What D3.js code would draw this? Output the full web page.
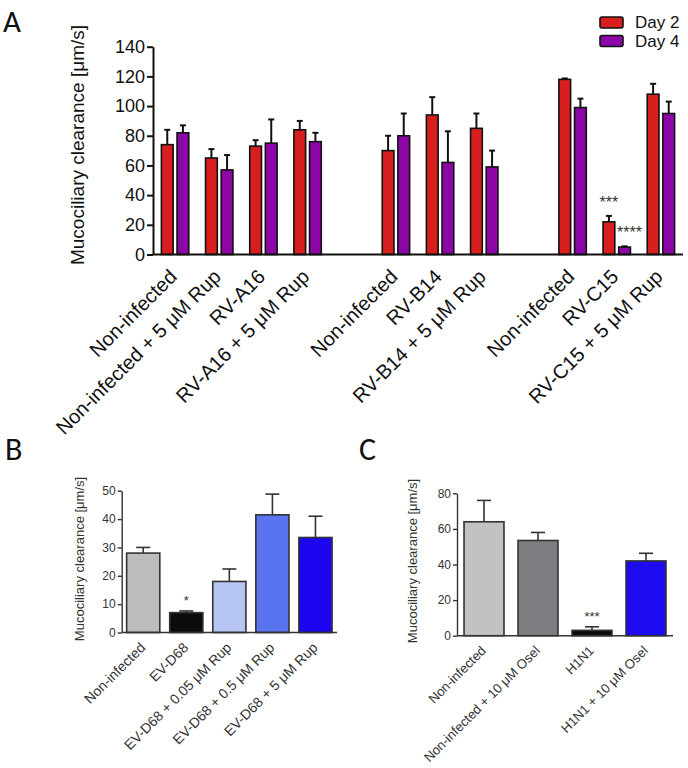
<!DOCTYPE html>
<html><head><meta charset="utf-8">
<script src="https://cdn.jsdelivr.net/npm/d3@7"></script>
<style>body{margin:0;background:#fff}</style>
</head><body>
<svg id="c" width="688" height="768"></svg>
<script>
// ---------- Panel A data ----------
const catsA = ["Non-infected","Non-infected + 5 μM Rup","RV-A16","RV-A16 + 5 μM Rup","",
  "Non-infected","RV-B14","RV-B14 + 5 μM Rup","",
  "Non-infected","RV-C15","RV-C15 + 5 μM Rup"];
const seriesA = ["Day 2","Day 4"];
const day2 = [74,65,73,84,null,70,94,85,null,118,22,108];
const day2Err = [10,6,4,6,null,10,12,10,null,0.6,4,7];
const day4 = [82,57,75,76,null,80,62,59,null,99,5,95];
const day4Err = [5,10,16,6,null,15,21,11,null,6,0.5,8];
const ticksA = [0,20,40,60,80,100,120,140];
const starsA = [{slot:10, series:"Day 2", text:"***"},{slot:10, series:"Day 4", text:"****"}];

// ---------- Panel B data ----------
const catsB = ["Non-infected","EV-D68","EV-D68 + 0.05 μM Rup","EV-D68 + 0.5 μM Rup","EV-D68 + 5 μM Rup"];
const valsB = [28,7,18,41.5,33.5];
const errB = [2,0.6,4.4,7.3,7.5];
const ticksB = [0,10,20,30,40,50];
const starsB = [{index:1, text:"*"}];

// ---------- Panel C data ----------
const catsC = ["Non-infected","Non-infected + 10 μM Osel","H1N1","H1N1 + 10 μM Osel"];
const valsC = [64,53.5,3,42];
const errC = [12,4.5,2,4.3];
const ticksC = [0,20,40,60,80];
const starsC = [{index:2, text:"***"}];

const yTitle = "Mucociliary clearance [μm/s]";

// ---------- styles ----------
const colA = {"Day 2":"#d81e1e","Day 4":"#8c06a8"};
const colB = ["#bdbdbd","#0b0b0b","#b7c5f2","#5a73ee","#1c06f2"];
const colC = ["#c2c2c2","#7d7d82","#0b0b0b","#1c0af0"];
const FONT = "'Liberation Sans', Arial, sans-serif";
const LFONT = "Carlito, Lato, 'Open Sans', sans-serif";

const svg = d3.select("#c");
svg.append("rect").attr("width",688).attr("height",768).attr("fill","#fff");

// ================= Panel A =================
(function(){
  const x0 = 153, x1 = 683, yb = 254.5, yt = 46.7;
  const slots = d3.range(catsA.length);
  const xs = d3.scaleBand().domain(slots).range([x0,x1]).paddingInner(0.38).paddingOuter(0.19);
  const xi = d3.scaleBand().domain(seriesA).range([0, xs.bandwidth()]).paddingInner(0.25);
  const y = d3.scaleLinear().domain([0,140]).range([yb,yt]);
  const g = svg.append("g");

  const rows = [];
  slots.forEach(i=>{
    if (day2[i]!=null) rows.push({i, s:"Day 2", v:day2[i], e:day2Err[i]});
    if (day4[i]!=null) rows.push({i, s:"Day 4", v:day4[i], e:day4Err[i]});
  });
  const bx = d=> xs(d.i)+xi(d.s);
  const eg = g.append("g").attr("stroke","#111").attr("stroke-width",2);
  rows.forEach(d=>{
    const cx = bx(d)+xi.bandwidth()/2;
    eg.append("line").attr("x1",cx).attr("x2",cx).attr("y1",y(d.v)).attr("y2",y(d.v+d.e));
    eg.append("line").attr("x1",cx-3).attr("x2",cx+3).attr("y1",y(d.v+d.e)).attr("y2",y(d.v+d.e));
  });
  g.selectAll("rect.bar").data(rows).join("rect")
    .attr("x",bx).attr("width",xi.bandwidth())
    .attr("y",d=>y(d.v)).attr("height",d=>yb-y(d.v))
    .attr("fill",d=>colA[d.s]).attr("stroke","#111").attr("stroke-width",1.6);

  const ay = g.append("g").attr("transform",`translate(${x0},0)`)
    .call(d3.axisLeft(y).tickValues(ticksA).tickSize(6).tickSizeOuter(0).tickPadding(2));
  ay.select(".domain").attr("stroke","#111").attr("stroke-width",2);
  ay.selectAll(".tick line").attr("stroke","#111").attr("stroke-width",2);
  ay.selectAll("text").attr("font-family",FONT).attr("font-size",18).attr("fill","#111");
  g.append("line").attr("x1",x0).attr("x2",x1).attr("y1",yb).attr("y2",yb)
    .attr("stroke","#111").attr("stroke-width",2);

  slots.forEach(i=>{
    if (!catsA[i]) return;
    const cx = xs(i)+xs.bandwidth()/2;
    g.append("text").attr("transform",`translate(${cx-2},${yb+18.5}) rotate(-45)`)
      .attr("text-anchor","end").attr("dy","0.35em")
      .attr("font-family",FONT).attr("font-size",20).attr("fill","#111").text(catsA[i]);
  });
  g.append("text").attr("transform",`translate(84,145) rotate(-90)`)
    .attr("text-anchor","middle").attr("font-family",FONT).attr("font-size",19).attr("fill","#111").text(yTitle);

  starsA.forEach(s=>{
    const v = s.series==="Day 2"? day2[s.slot]+day2Err[s.slot] : day4[s.slot]+day4Err[s.slot];
    const cx = xs(s.slot)+xi(s.series)+xi.bandwidth()/2 + (s.series==="Day 4"?5:0);
    g.append("text").attr("x",cx).attr("y",y(v)-8).attr("text-anchor","middle")
      .attr("font-family",FONT).attr("font-size",16).attr("fill","#333").text(s.text);
  });

  seriesA.forEach((s,k)=>{
    const ly = 17 + k*18.5;
    g.append("rect").attr("x",600).attr("y",ly).attr("width",23).attr("height",11).attr("rx",2)
      .attr("fill",colA[s]).attr("stroke","#111").attr("stroke-width",1.6);
    g.append("text").attr("x",635).attr("y",ly+5.5).attr("dy","0.35em")
      .attr("font-family",FONT).attr("font-size",17).attr("fill","#111").text(s);
  });

  svg.append("text").attr("x",3).attr("y",32).attr("font-family",LFONT).attr("font-size",31).attr("fill","#111").text("A");
})();

// ================= Panels B & C =================
function smallPanel(cfg){
  const {x0,x1,yb,yt,max,cats,vals,errs,cols,ticks,stars,pad,titleX,titleY,lab} = cfg;
  const g = svg.append("g");
  const x = d3.scaleBand().domain(d3.range(cats.length)).range([x0,x1]).paddingInner(pad).paddingOuter(pad/2);
  const y = d3.scaleLinear().domain([0,max]).range([yb,yt]);
  const eg = g.append("g").attr("stroke","#333").attr("stroke-width",1.6);
  vals.forEach((v,i)=>{
    const cx = x(i)+x.bandwidth()/2;
    eg.append("line").attr("x1",cx).attr("x2",cx).attr("y1",y(v)).attr("y2",y(v+errs[i]));
    eg.append("line").attr("x1",cx-7).attr("x2",cx+7).attr("y1",y(v+errs[i])).attr("y2",y(v+errs[i]));
  });
  g.selectAll("rect.bar").data(vals).join("rect")
    .attr("x",(d,i)=>x(i)).attr("width",x.bandwidth())
    .attr("y",d=>y(d)).attr("height",d=>yb-y(d))
    .attr("fill",(d,i)=>cols[i]).attr("stroke","#333").attr("stroke-width",1.6);
  const ay = g.append("g").attr("transform",`translate(${x0},0)`)
    .call(d3.axisLeft(y).tickValues(ticks).tickSize(4).tickSizeOuter(0).tickPadding(2));
  ay.select(".domain").attr("stroke","#333").attr("stroke-width",1.4);
  ay.selectAll(".tick line").attr("stroke","#333").attr("stroke-width",1.4);
  ay.selectAll("text").attr("font-family",FONT).attr("font-size",12).attr("fill","#333");
  g.append("line").attr("x1",x0).attr("x2",x1).attr("y1",yb).attr("y2",yb)
    .attr("stroke","#333").attr("stroke-width",1.4);
  cats.forEach((c,i)=>{
    const cx = x(i)+x.bandwidth()/2;
    g.append("text").attr("transform",`translate(${cx-0.5},${yb+12.5}) rotate(-45)`)
      .attr("text-anchor","end").attr("dy","0.35em")
      .attr("font-family",FONT).attr("font-size",lab).attr("fill","#333").text(c);
  });
  g.append("text").attr("transform",`translate(${titleX},${titleY}) rotate(-90)`)
    .attr("text-anchor","middle").attr("font-family",FONT).attr("font-size",13).attr("fill","#333").text(yTitle);
  stars.forEach(s=>{
    const cx = x(s.index)+x.bandwidth()/2;
    g.append("text").attr("x",cx).attr("y",y(vals[s.index]+errs[s.index])-6).attr("text-anchor","middle")
      .attr("font-family",FONT).attr("font-size",13).attr("fill","#333").text(s.text);
  });
}

smallPanel({x0:121.7,x1:337,yb:632.5,yt:490.7,max:50,cats:catsB,vals:valsB,errs:errB,cols:colB,
  ticks:ticksB,stars:starsB,pad:0.23,titleX:84,titleY:559,lab:14});
smallPanel({x0:457,x1:673,yb:635.7,yt:493.3,max:80,cats:catsC,vals:valsC,errs:errC,cols:colC,
  ticks:ticksC,stars:starsC,pad:0.26,titleX:417,titleY:561,lab:13.2});

svg.append("text").attr("x",5).attr("y",460).attr("font-family",LFONT).attr("font-size",32).attr("fill","#111").text("B");
svg.append("text").attr("x",359).attr("y",460).attr("font-family",LFONT).attr("font-size",32).attr("fill","#111").text("C");
</script>
</body></html>
